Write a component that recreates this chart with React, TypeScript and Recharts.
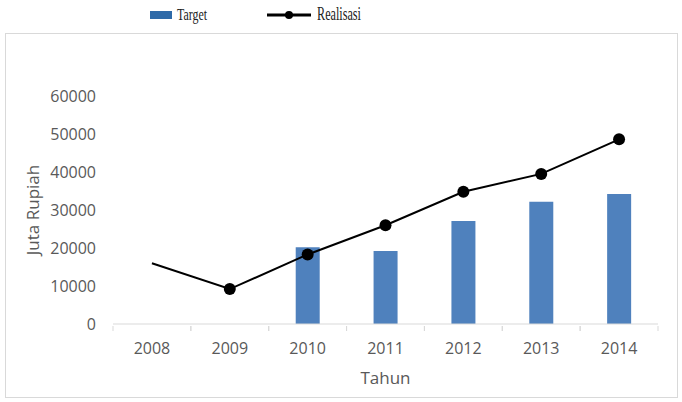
import { Bar, ComposedChart, Line, XAxis, YAxis } from "recharts"

const years = ["2008", "2009", "2010", "2011", "2012", "2013", "2014"]
const target = [null, null, 20200, 19200, 27100, 32200, 34200]
const realisasi = [16000, 9200, 18300, 26000, 34800, 39500, 48600]
const yTicks = [0, 10000, 20000, 30000, 40000, 50000, 60000]

const data = years.map((y, i) => ({ year: y, target: target[i], realisasi: realisasi[i] }))

const axisFont = "'Open Sans', 'Noto Sans', sans-serif"

const XTick = (props: any) => {
    const { x, y, payload } = props
    const half = 545 / years.length / 2
    return (
        <g>
            <line x1={x - half} y1={y} x2={x - half} y2={y + 5} stroke="#d9d9d9" />
            <line x1={x + half} y1={y} x2={x + half} y2={y + 5} stroke="#d9d9d9" />
            <text x={x} y={y + 28} textAnchor="middle" fill="#595959" fontSize={16} fontFamily={axisFont}>
                {payload.value}
            </text>
        </g>
    )
}

const RealDot = (props: any) => {
    const { cx, cy, index } = props
    if (index === 0) return <g key={index} />
    return <circle key={index} cx={cx} cy={cy} r={6} fill="#000" />
}

const App = () => {
    return (
        <div style={{ position: "absolute", left: 0, top: 0, width: 682, height: 402, background: "#fff" }}>
            <div style={{ position: "absolute", left: 5, top: 33, width: 671, height: 363, border: "1px solid #d9d9d9" }} />
            <svg width={682} height={33} style={{ position: "absolute", left: 0, top: 0 }}>
                <rect x={150} y={11} width={22} height={8} fill="#2e6aa8" />
                <text x={177} y={20} fontSize={17} fontFamily="'Liberation Serif', serif" fill="#222"
                    textLength={30} lengthAdjust="spacingAndGlyphs">Target</text>
                <line x1={267} y1={15} x2={311} y2={15} stroke="#000" strokeWidth={3} />
                <circle cx={289} cy={15} r={4} fill="#000" />
                <text x={317} y={20} fontSize={18} fontFamily="'Liberation Serif', serif" fill="#222"
                    textLength={44} lengthAdjust="spacingAndGlyphs">Realisasi</text>
            </svg>
            <div style={{ position: "absolute", left: 0, top: 0 }}>
                <ComposedChart width={682} height={402} data={data}
                    margin={{ top: 96, right: 24, bottom: 8, left: 20 }} barSize={24}>
                    <XAxis dataKey="year" height={70} stroke="#d9d9d9" tickLine={false} tickSize={0}
                        tick={<XTick />}
                        label={{ value: "Tahun", position: "insideBottom", offset: 10, fill: "#595959", fontSize: 17, fontFamily: axisFont }} />
                    <YAxis width={93} domain={[0, 60000]} ticks={yTicks} axisLine={false} tickLine={false}
                        tickSize={0} tickMargin={17} interval={0}
                        tick={{ fill: "#595959", fontSize: 16, fontFamily: axisFont }}
                        label={{ value: "Juta Rupiah", angle: -90, position: "insideLeft", offset: 13, fill: "#595959", fontSize: 17, fontFamily: axisFont, style: { textAnchor: "middle" } }} />
                    <Bar dataKey="target" fill="#4f81bd" isAnimationActive={false} />
                    <Line dataKey="realisasi" stroke="#000" strokeWidth={2} dot={<RealDot />} activeDot={false}
                        isAnimationActive={false} />
                </ComposedChart>
            </div>
        </div>
    )
}

export default App
